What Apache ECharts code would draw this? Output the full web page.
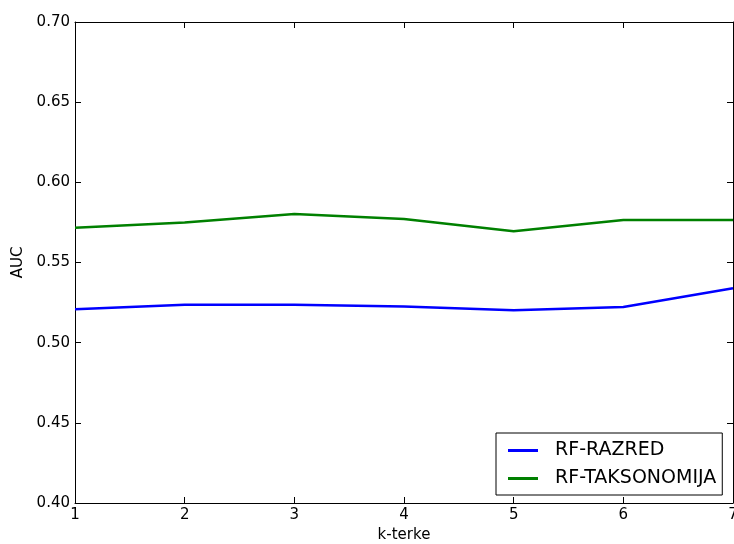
<!DOCTYPE html>
<html>
<head>
<meta charset="utf-8">
<script src="https://cdn.jsdelivr.net/npm/echarts@6/dist/echarts.min.js"></script>
<style>html,body{margin:0;padding:0;background:#fff}#c{width:734px;height:544px}</style>
</head>
<body>
<div id="c"></div>
<script>
const kValues = [1, 2, 3, 4, 5, 6, 7];
const rfRazred = [0.5208, 0.5237, 0.5237, 0.5225, 0.5202, 0.5223, 0.5339];
const rfTaksonomija = [0.5717, 0.5749, 0.5803, 0.5772, 0.5695, 0.5765, 0.5765];
const seriesNames = ['RF-RAZRED', 'RF-TAKSONOMIJA'];
const seriesColors = ['#0000ff', '#008000'];
const yTicks = [0.40, 0.45, 0.50, 0.55, 0.60, 0.65, 0.70];

const font = 'DejaVu Sans';
const chart = echarts.init(document.getElementById('c'), null, {renderer: 'canvas'});
const axisCommon = {
  axisLine: {show: true, onZero: false, lineStyle: {color: '#000', width: 1}},
  axisTick: {show: true, inside: true, length: 6, lineStyle: {color: '#000', width: 1}},
  splitLine: {show: false}
};
chart.setOption({
  animation: false,
  backgroundColor: '#fff',
  grid: {left: 75, right: 1, top: 22, bottom: 41, containLabel: false, outerBoundsMode: 'none'},
  legend: {
    orient: 'vertical',
    left: 496, top: 433,
    data: seriesNames,
    icon: 'rect',
    itemWidth: 30, itemHeight: 3,
    itemGap: 9,
    padding: [8, 6, 7, 12],
    borderColor: '#000', borderWidth: 1, borderRadius: 0,
    backgroundColor: '#fff',
    textStyle: {fontFamily: font, fontSize: 19, color: '#000', lineHeight: 18, padding: [0, 0, 0, 12]}
  },
  xAxis: [
    Object.assign({}, axisCommon, {
      type: 'value', min: 1, max: 7, interval: 1, position: 'bottom',
      name: 'k-terke', nameLocation: 'middle', nameGap: 25,
      nameTextStyle: {fontFamily: font, fontSize: 15, color: '#000'},
      axisLabel: {fontFamily: font, fontSize: 15, color: '#000', margin: 5}
    }),
    Object.assign({}, axisCommon, {
      type: 'value', min: 1, max: 7, interval: 1, position: 'top',
      axisLabel: {show: false}
    })
  ],
  yAxis: [
    Object.assign({}, axisCommon, {
      type: 'value', min: 0.40, max: 0.70, interval: 0.05, position: 'left',
      name: 'AUC', nameLocation: 'middle', nameGap: 45,
      nameTextStyle: {fontFamily: font, fontSize: 15, color: '#000'},
      axisLabel: {fontFamily: font, fontSize: 15, color: '#000', margin: 5,
        formatter: v => v.toFixed(2)}
    }),
    Object.assign({}, axisCommon, {
      type: 'value', min: 0.40, max: 0.70, interval: 0.05, position: 'right',
      axisLabel: {show: false}
    })
  ],
  series: [
    {name: seriesNames[0], type: 'line', data: kValues.map((k, i) => [k, rfRazred[i]]),
     showSymbol: false, symbol: 'none', color: seriesColors[0], lineStyle: {width: 2.5, color: seriesColors[0]}},
    {name: seriesNames[1], type: 'line', data: kValues.map((k, i) => [k, rfTaksonomija[i]]),
     showSymbol: false, symbol: 'none', color: seriesColors[1], lineStyle: {width: 2.5, color: seriesColors[1]}}
  ]
});
</script>
</body>
</html>
